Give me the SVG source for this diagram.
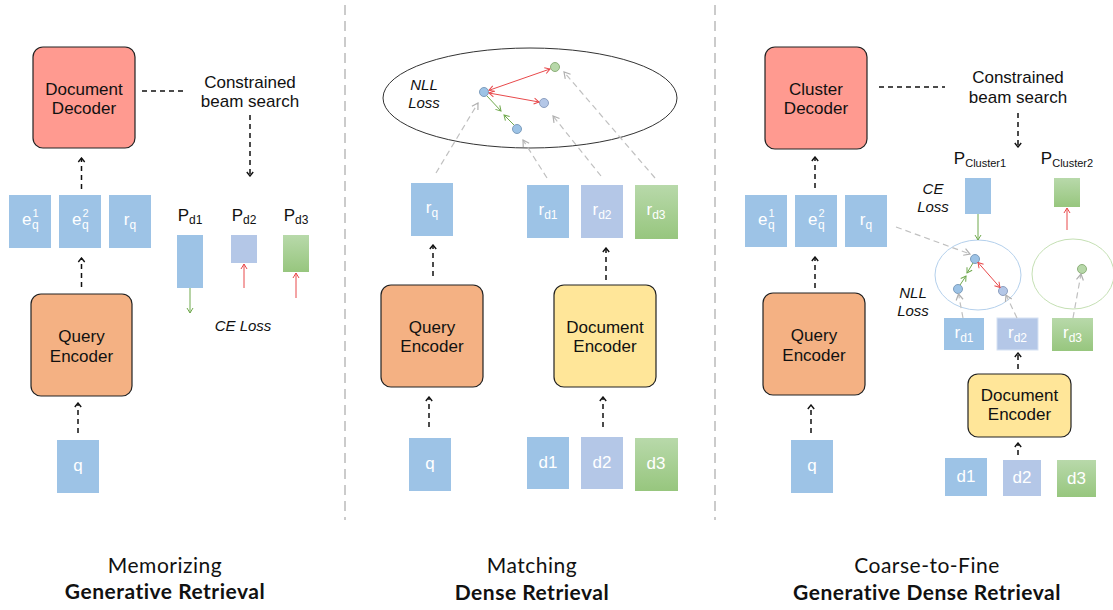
<svg xmlns="http://www.w3.org/2000/svg" width="1113" height="610" viewBox="0 0 1113 610">
<defs>
<style>
.box{stroke:#222;stroke-width:1.2}
.dec{fill:#FF9A90}
.qe{fill:#F4B183}
.de{fill:#FFE699}
.b{fill:#9DC3E6}
.l{fill:#B4C7E7}
.g{fill:url(#gg)}
.lbl{font-family:"Liberation Sans",Arial,sans-serif;font-size:17px;fill:#111;text-anchor:middle}
.wt{fill:#fff}
.it{font-style:italic;font-size:15px}
.ttl{font-family:Lato,"Open Sans",sans-serif;font-size:21px;letter-spacing:0.5px;fill:#111;text-anchor:middle}
.bold{font-weight:bold}
.dash{stroke:#111;stroke-width:1.5;stroke-dasharray:5 4;fill:none}
.gray{stroke:#C0C0C0;stroke-width:1.2;stroke-dasharray:6 4;fill:none}
.red{stroke:#E8494B;stroke-width:1;fill:none}
.grn{stroke:#6FA84C;stroke-width:1;fill:none}
.div{stroke:#BBBBBB;stroke-width:1.5;stroke-dasharray:10 6}
.nb{fill:#9DC3E6;stroke:#7D9DBD;stroke-width:1}
.nl{fill:#B4C7E7;stroke:#8C9FC0;stroke-width:1}
.ng{fill:#B7D8A9;stroke:#8DB07A;stroke-width:1}
</style>
<linearGradient id="gg" x1="0" y1="0" x2="0" y2="1">
<stop offset="0" stop-color="#B8D9AA"/>
<stop offset="1" stop-color="#97C67E"/>
</linearGradient>
<marker id="ab" viewBox="-6 -5 7 10" refX="0" refY="0" markerWidth="7" markerHeight="10" markerUnits="userSpaceOnUse" orient="auto">
<path d="M-4,-3.2 L0,0 L-4,3.2" fill="none" stroke="#111" stroke-width="1.4"/>
</marker>
<marker id="agr" viewBox="-7 -5 8 10" refX="0" refY="0" markerWidth="8" markerHeight="10" markerUnits="userSpaceOnUse" orient="auto">
<path d="M-6,-3.5 L0,0 L-6,3.5" fill="none" stroke="#B0B0B0" stroke-width="1.2"/>
</marker>
<marker id="ar" viewBox="-6 -4 7 8" refX="0" refY="0" markerWidth="7" markerHeight="8" markerUnits="userSpaceOnUse" orient="auto-start-reverse">
<path d="M-5,-3 L0,0 L-5,3" fill="none" stroke="#E8494B" stroke-width="1"/>
</marker>
<marker id="ag" viewBox="-6 -4 7 8" refX="0" refY="0" markerWidth="7" markerHeight="8" markerUnits="userSpaceOnUse" orient="auto">
<path d="M-5,-3 L0,0 L-5,3" fill="none" stroke="#6FA84C" stroke-width="1"/>
</marker>
</defs>
<rect width="1113" height="610" fill="#fff"/>

<g id="dividers">
<line class="div" x1="345" y1="5" x2="345" y2="520"/>
<line class="div" x1="715" y1="5" x2="715" y2="520"/>
</g>

<!-- LEFT PANEL -->
<g id="l-decoder"><rect class="box dec" x="33" y="47" width="102" height="101" rx="10"/>
<text class="lbl" x="84" y="95">Document</text><text class="lbl" x="84" y="114">Decoder</text></g>
<g id="l-beam"><text class="lbl" x="250" y="88">Constrained</text><text class="lbl" x="250" y="107">beam search</text></g>
<g id="l-e1"><rect class="b" x="9" y="195" width="42" height="53"/>
<text class="lbl wt" x="22" y="225" style="text-anchor:start">e</text><text class="lbl wt" x="32" y="229" style="text-anchor:start;font-size:12px">q</text><text class="lbl wt" x="32.5" y="217" style="text-anchor:start;font-size:11px">1</text></g>
<g id="l-e2"><rect class="b" x="59" y="195" width="42" height="53"/>
<text class="lbl wt" x="72" y="225" style="text-anchor:start">e</text><text class="lbl wt" x="82" y="229" style="text-anchor:start;font-size:12px">q</text><text class="lbl wt" x="82.5" y="217" style="text-anchor:start;font-size:11px">2</text></g>
<g id="l-rq"><rect class="b" x="109" y="195" width="42" height="53"/>
<text class="lbl wt" x="130" y="225">r<tspan style="font-size:12px" dy="4">q</tspan></text></g>
<g id="l-qenc"><rect class="box qe" x="31" y="294" width="101" height="102" rx="10"/>
<text class="lbl" x="81.5" y="342">Query</text><text class="lbl" x="81.5" y="362">Encoder</text></g>
<g id="l-q"><rect class="b" x="57" y="440" width="42" height="53"/><text class="lbl wt" x="78" y="471">q</text></g>
<g id="l-pd1"><text class="lbl" x="190" y="221">P<tspan style="font-size:12px" dy="3">d1</tspan></text><rect class="b" x="177" y="235" width="26" height="53"/></g>
<g id="l-pd2"><text class="lbl" x="244" y="221">P<tspan style="font-size:12px" dy="3">d2</tspan></text><rect class="l" x="231" y="235" width="26" height="28"/></g>
<g id="l-pd3"><text class="lbl" x="296" y="221">P<tspan style="font-size:12px" dy="3">d3</tspan></text><rect class="g" x="283" y="235" width="26" height="37"/></g>
<g id="l-celoss"><text class="lbl it" x="243" y="331">CE Loss</text></g>

<!-- MIDDLE PANEL -->
<g id="m-space"><ellipse cx="530" cy="98" rx="147" ry="50" fill="none" stroke="#333" stroke-width="1"/>
<text class="lbl it" x="424" y="90">NLL</text><text class="lbl it" x="424" y="108">Loss</text>
<circle class="nb" cx="484" cy="92" r="4.5"/><circle class="ng" cx="555" cy="67" r="4.5"/>
<circle class="nl" cx="544" cy="103" r="4.5"/><circle class="nb" cx="517" cy="129" r="4.5"/></g>
<g id="m-rq"><rect class="b" x="411" y="183" width="42" height="53"/><text class="lbl wt" x="432" y="213">r<tspan style="font-size:12px" dy="4">q</tspan></text></g>
<g id="m-rd1"><rect class="b" x="527" y="185" width="42" height="53"/><text class="lbl wt" x="548" y="215">r<tspan style="font-size:12px" dy="4">d1</tspan></text></g>
<g id="m-rd2"><rect class="l" x="581" y="185" width="42" height="53"/><text class="lbl wt" x="602" y="215">r<tspan style="font-size:12px" dy="4">d2</tspan></text></g>
<g id="m-rd3"><rect class="g" x="635" y="185" width="43" height="54"/><text class="lbl wt" x="656" y="215">r<tspan style="font-size:12px" dy="4">d3</tspan></text></g>
<g id="m-qenc"><rect class="box qe" x="381" y="285" width="102" height="102" rx="10"/>
<text class="lbl" x="432" y="333">Query</text><text class="lbl" x="432" y="352">Encoder</text></g>
<g id="m-denc"><rect class="box de" x="554" y="285" width="102" height="102" rx="10"/>
<text class="lbl" x="605" y="333">Document</text><text class="lbl" x="605" y="352">Encoder</text></g>
<g id="m-q"><rect class="b" x="409" y="438" width="42" height="53"/><text class="lbl wt" x="430" y="469">q</text></g>
<g id="m-d1"><rect class="b" x="527" y="437" width="42" height="52"/><text class="lbl wt" x="548" y="468">d1</text></g>
<g id="m-d2"><rect class="l" x="581" y="437" width="42" height="52"/><text class="lbl wt" x="602" y="468">d2</text></g>
<g id="m-d3"><rect class="g" x="635" y="438" width="43" height="53"/><text class="lbl wt" x="656" y="469">d3</text></g>

<!-- RIGHT PANEL -->
<g id="r-decoder"><rect class="box dec" x="765" y="47" width="102" height="102" rx="10"/>
<text class="lbl" x="816" y="95">Cluster</text><text class="lbl" x="816" y="114">Decoder</text></g>
<g id="r-beam"><text class="lbl" x="1018" y="83">Constrained</text><text class="lbl" x="1018" y="103">beam search</text></g>
<g id="r-pc1"><text class="lbl" x="980" y="164">P<tspan style="font-size:11px" dy="3">Cluster1</tspan></text><rect class="b" x="965" y="178" width="26" height="36"/></g>
<g id="r-pc2"><text class="lbl" x="1067" y="164">P<tspan style="font-size:11px" dy="3">Cluster2</tspan></text><rect class="g" x="1054" y="178" width="26" height="29"/></g>
<g id="r-celoss"><text class="lbl it" x="933" y="194">CE</text><text class="lbl it" x="933" y="212">Loss</text></g>
<g id="r-e1"><rect class="b" x="745" y="195" width="42" height="52"/>
<text class="lbl wt" x="758" y="225" style="text-anchor:start">e</text><text class="lbl wt" x="768" y="229" style="text-anchor:start;font-size:12px">q</text><text class="lbl wt" x="768.5" y="217" style="text-anchor:start;font-size:11px">1</text></g>
<g id="r-e2"><rect class="b" x="795" y="195" width="42" height="52"/>
<text class="lbl wt" x="808" y="225" style="text-anchor:start">e</text><text class="lbl wt" x="818" y="229" style="text-anchor:start;font-size:12px">q</text><text class="lbl wt" x="818.5" y="217" style="text-anchor:start;font-size:11px">2</text></g>
<g id="r-rq"><rect class="b" x="845" y="195" width="42" height="52"/><text class="lbl wt" x="866" y="225">r<tspan style="font-size:12px" dy="4">q</tspan></text></g>
<g id="r-cluster1"><ellipse cx="978" cy="275" rx="43" ry="35" fill="none" stroke="#B4D0EC" stroke-width="1"/>
<circle class="nb" cx="975" cy="259" r="4.5"/><circle class="nb" cx="958" cy="289" r="4.5"/><circle class="nl" cx="1003" cy="291" r="4.5"/></g>
<g id="r-cluster2"><ellipse cx="1073" cy="274" rx="41" ry="35" fill="none" stroke="#C5E0B4" stroke-width="1"/>
<circle class="ng" cx="1082" cy="269" r="4.5"/></g>
<g id="r-nllloss"><text class="lbl it" x="913" y="298">NLL</text><text class="lbl it" x="913" y="316">Loss</text></g>
<g id="r-rd1"><rect class="b" x="944" y="318" width="40" height="32"/><text class="lbl wt" x="964" y="338">r<tspan style="font-size:12px" dy="4">d1</tspan></text></g>
<g id="r-rd2"><rect class="l" x="997" y="318" width="41" height="32" stroke="#D6E2F3" stroke-width="1"/><text class="lbl wt" x="1017.5" y="338">r<tspan style="font-size:12px" dy="4">d2</tspan></text></g>
<g id="r-rd3"><rect class="g" x="1052" y="318" width="41" height="33"/><text class="lbl wt" x="1072.5" y="338">r<tspan style="font-size:12px" dy="4">d3</tspan></text></g>
<g id="r-qenc"><rect class="box qe" x="763" y="293" width="102" height="102" rx="10"/>
<text class="lbl" x="814" y="341">Query</text><text class="lbl" x="814" y="361">Encoder</text></g>
<g id="r-denc"><rect class="box de" x="968" y="374" width="103" height="63" rx="10"/>
<text class="lbl" x="1019.5" y="401">Document</text><text class="lbl" x="1019.5" y="420">Encoder</text></g>
<g id="r-q"><rect class="b" x="791" y="440" width="42" height="53"/><text class="lbl wt" x="812" y="471">q</text></g>
<g id="r-d1"><rect class="b" x="945" y="458" width="42" height="38"/><text class="lbl wt" x="966" y="482">d1</text></g>
<g id="r-d2"><rect class="l" x="1003" y="460" width="38" height="36"/><text class="lbl wt" x="1022" y="483">d2</text></g>
<g id="r-d3"><rect class="g" x="1057" y="460" width="39" height="37"/><text class="lbl wt" x="1076.5" y="484">d3</text></g>

<g id="connectors">
<line class="dash" x1="142" y1="91" x2="187" y2="91"/>
<line class="dash" x1="250" y1="115" x2="250" y2="176" marker-end="url(#ab)"/>
<line class="dash" x1="81.5" y1="189" x2="81.5" y2="158" marker-end="url(#ab)"/>
<line class="dash" x1="81.5" y1="287" x2="81.5" y2="258" marker-end="url(#ab)"/>
<line class="dash" x1="78" y1="433" x2="78" y2="403" marker-end="url(#ab)"/>
<line class="grn" x1="190" y1="288" x2="190" y2="313" marker-end="url(#ag)"/>
<line class="red" x1="244" y1="288" x2="244" y2="264" marker-end="url(#ar)"/>
<line class="red" x1="296" y1="298" x2="296" y2="273" marker-end="url(#ar)"/>
<line class="red" x1="489" y1="90.3" x2="550" y2="69" marker-start="url(#ar)" marker-end="url(#ar)"/>
<line class="red" x1="489" y1="93" x2="539" y2="102" marker-start="url(#ar)" marker-end="url(#ar)"/>
<line class="grn" x1="487" y1="96" x2="501" y2="111" marker-end="url(#ag)"/>
<line class="grn" x1="514" y1="125" x2="504" y2="115" marker-end="url(#ag)"/>
<line class="gray" x1="436" y1="173" x2="478" y2="103" marker-end="url(#agr)"/>
<line class="gray" x1="547" y1="178" x2="523" y2="140" marker-end="url(#agr)"/>
<line class="gray" x1="601" y1="176" x2="553" y2="116" marker-end="url(#agr)"/>
<line class="gray" x1="655" y1="178" x2="564" y2="72" marker-end="url(#agr)"/>
<line class="dash" x1="433" y1="276" x2="433" y2="245" marker-end="url(#ab)"/>
<line class="dash" x1="606" y1="280" x2="606" y2="248" marker-end="url(#ab)"/>
<line class="dash" x1="429" y1="427" x2="429" y2="397" marker-end="url(#ab)"/>
<line class="dash" x1="603" y1="427" x2="603" y2="397" marker-end="url(#ab)"/>
<line class="dash" x1="879" y1="87" x2="945" y2="87"/>
<line class="dash" x1="1018" y1="113" x2="1018" y2="147" marker-end="url(#ab)"/>
<line class="dash" x1="815" y1="188" x2="815" y2="157" marker-end="url(#ab)"/>
<line class="grn" x1="978" y1="214" x2="978" y2="240" marker-end="url(#ag)"/>
<line class="red" x1="1067" y1="230" x2="1067" y2="208" marker-end="url(#ar)"/>
<line class="gray" x1="896" y1="227" x2="970" y2="254" marker-end="url(#agr)"/>
<line class="grn" x1="973" y1="263" x2="967" y2="273" marker-end="url(#ag)"/>
<line class="grn" x1="960" y1="285" x2="966" y2="276" marker-end="url(#ag)"/>
<line class="red" x1="978" y1="262.5" x2="1000" y2="287.5" marker-start="url(#ar)" marker-end="url(#ar)"/>
<line class="gray" x1="963" y1="318" x2="958.5" y2="294" marker-end="url(#agr)"/>
<line class="gray" x1="1017" y1="318" x2="1006" y2="295" marker-end="url(#agr)"/>
<line class="gray" x1="1073" y1="318" x2="1081" y2="274" marker-end="url(#agr)"/>
<line class="dash" x1="815" y1="288" x2="815" y2="257" marker-end="url(#ab)"/>
<line class="dash" x1="811" y1="433" x2="811" y2="405" marker-end="url(#ab)"/>
<line class="dash" x1="1018" y1="369" x2="1018" y2="353" marker-end="url(#ab)"/>
<line class="dash" x1="1018" y1="455" x2="1018" y2="443" marker-end="url(#ab)"/>
</g>

<g id="titles">
<text class="ttl" x="165" y="573">Memorizing</text>
<text class="ttl bold" x="165" y="599">Generative Retrieval</text>
<text class="ttl" x="532" y="573">Matching</text>
<text class="ttl bold" x="532" y="600">Dense Retrieval</text>
<text class="ttl" x="927" y="573">Coarse-to-Fine</text>
<text class="ttl bold" x="927" y="600">Generative Dense Retrieval</text>
</g>
</svg>
